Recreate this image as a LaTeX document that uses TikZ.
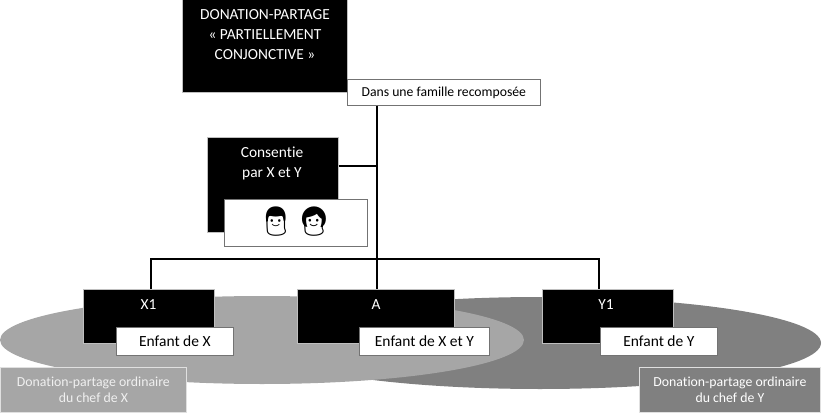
\documentclass[tikz,border=0pt]{standalone}
\usepackage{fontspec}
\setmainfont[Ligatures={NoCommon}]{Carlito}
\newfontfamily\emojifont{Noto Emoji}
\definecolor{lightg}{HTML}{A6A6A6}
\definecolor{darkg}{HTML}{808080}
\begin{document}
\begin{tikzpicture}[x=1pt,y=-1pt,
  blackbox/.style={fill=black,draw=black!25,line width=0.5pt,inner sep=0pt,anchor=north west},
  whitebox/.style={fill=white,draw=black!55,line width=0.7pt,inner sep=0pt,anchor=north west,font=\fontsize{15.5}{18}\selectfont},
  smallbox/.style={fill=white,draw=black!55,line width=0.7pt,inner sep=0pt,anchor=north west,font=\fontsize{13.7}{16}\selectfont},
  whitetext/.style={text=white,align=center,inner sep=0pt,font=\fontsize{15.4}{20}\selectfont},
  labelbox/.style={draw=black!12,line width=0.8pt,inner sep=0pt,anchor=north west,align=center,font=\fontsize{13.8}{16}\selectfont},
  conn/.style={draw=black,line width=2pt},
  emoji/.style={inner sep=0pt,font=\emojifont\fontsize{29}{29}\selectfont}]
\useasboundingbox (0,0) rectangle (822,417);
% ellipses
\fill[darkg] (540,343) ellipse [x radius=281pt,y radius=46pt];
\fill[lightg] (262,340) ellipse [x radius=262pt,y radius=44pt];
% title
\node[blackbox,minimum width=165pt,minimum height=94pt] (title) at (182,-2) {};
\node[whitetext] (titletxt) at (265,35) {DONATION-PARTAGE\\« PARTIELLEMENT\\CONJONCTIVE »};
\node[smallbox,minimum width=193pt,minimum height=26pt] (dans) at (347,79) {Dans une famille recomposée};
% consentie
\node[blackbox,minimum width=131pt,minimum height=95pt] (consent) at (207,137) {};
\node[whitetext] (consenttxt) at (272,163) {Consentie\\par X et Y};
\node[smallbox,minimum width=143pt,minimum height=47pt] (embox) at (224,199) {};
\node[emoji] (man) at (276,222) {👨};
\node[emoji] (woman) at (314,222) {👩};
% children
\node[blackbox,minimum width=131pt,minimum height=54pt] (x1) at (83,289) {};
\node[whitetext] (x1txt) at (148.5,305) {X1};
\node[whitebox,minimum width=117pt,minimum height=28pt] (ex) at (116,327) {Enfant de X};
\node[blackbox,minimum width=157pt,minimum height=54pt] (a) at (297,289) {};
\node[whitetext] (atxt) at (376,305) {A};
\node[whitebox,minimum width=130pt,minimum height=28pt] (exy) at (359,327) {Enfant de X et Y};
\node[blackbox,minimum width=131pt,minimum height=54pt] (y1) at (542,289) {};
\node[whitetext] (y1txt) at (606,305) {Y1};
\node[whitebox,minimum width=117pt,minimum height=28pt] (ey) at (600,327) {Enfant de Y};
% labels
\node[labelbox,fill=lightg,text=white!94!black,minimum width=186pt,minimum height=45pt] (lblx) at (0,367) {Donation-partage ordinaire\\du chef de X};
\node[labelbox,fill=darkg,text=white,minimum width=181pt,minimum height=45pt] (lbly) at (639,367) {Donation-partage ordinaire\\du chef de Y};
% connectors
\coordinate (jtop) at (377,259);
\coordinate (jmid) at (377,166);
\coordinate (jl) at (151,259);
\coordinate (jr) at (599,259);
\draw[conn] (dans.south -| jtop) -- (jtop) -- (a.north -| jtop);
\draw[conn] (consent.east |- jmid) -- (jmid);
\draw[conn] (x1.north -| jl) -- (jl) -- (jr) -- (y1.north -| jr);
\end{tikzpicture}
\end{document}
